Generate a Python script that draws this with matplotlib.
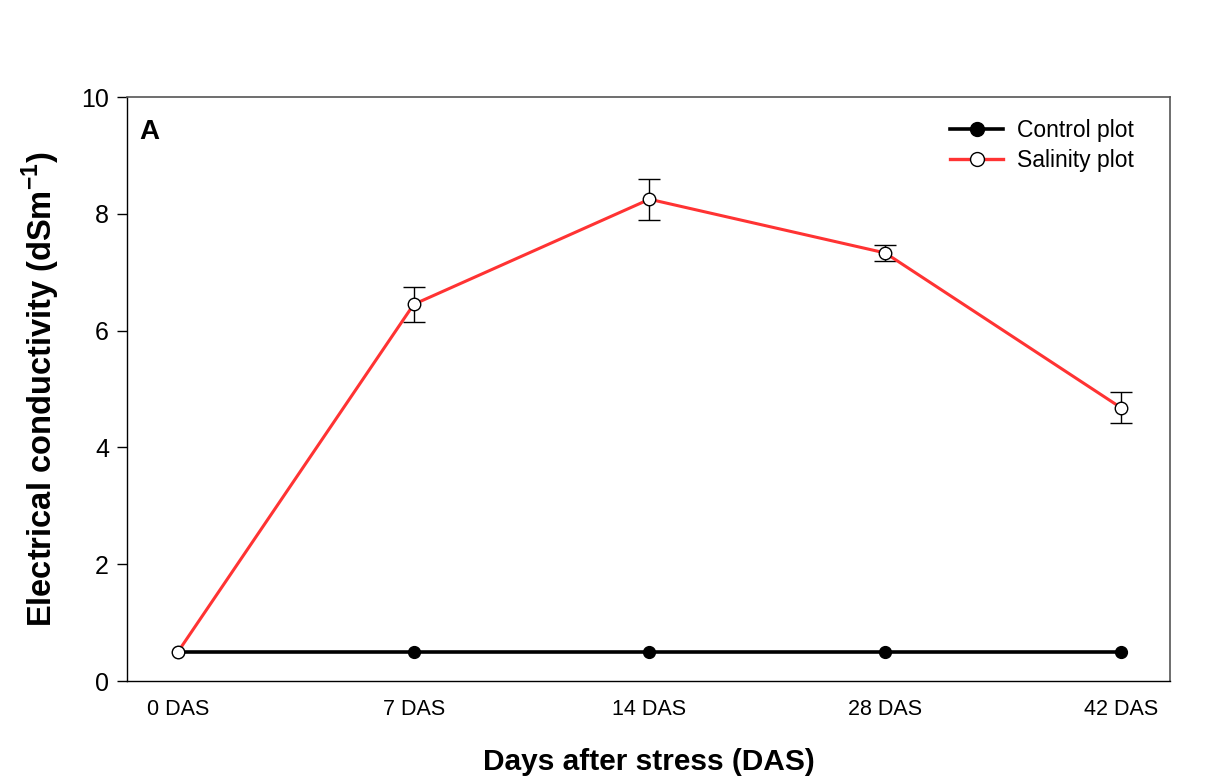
import matplotlib
matplotlib.use("Agg")
import matplotlib.pyplot as plt
import numpy as np
from matplotlib.lines import Line2D

plt.rcParams['font.family'] = ['Liberation Sans', 'DejaVu Sans']
plt.rcParams['mathtext.fontset'] = 'custom'
plt.rcParams['mathtext.bf'] = 'Liberation Sans:bold'
plt.rcParams['mathtext.rm'] = 'Liberation Sans'

categories = ["0 DAS", "7 DAS", "14 DAS", "28 DAS", "42 DAS"]
control = [0.5, 0.5, 0.5, 0.5, 0.5]
salinity = [0.5, 6.45, 8.25, 7.33, 4.68]
salinity_err = [0.0, 0.3, 0.35, 0.13, 0.27]

fig = plt.figure(figsize=(12.24, 7.8), dpi=100)
ax = fig.add_axes([0.1038, 0.1269, 0.8521, 0.7487])

x = np.arange(len(categories))
ax.plot(x, control, color='black', lw=2.6, marker='o', ms=8.5,
        mfc='black', mec='black', zorder=3)

err = np.array(salinity_err)
sal = np.array(salinity)
m = err > 0
ax.errorbar(x[m], sal[m], yerr=err[m], fmt='none', ecolor='black',
            elinewidth=1.0, capsize=8, capthick=1.0, zorder=4)
ax.plot(x, sal, color='#ff3333', lw=2.2, marker='o', ms=9,
        mfc='white', mec='black', mew=1.0, zorder=5)

ax.set_xlim(-0.216, 4.208)
ax.set_ylim(0, 10)
ax.set_yticks([0, 2, 4, 6, 8, 10])
ax.set_xticks(x)
ax.set_xticklabels(categories)
ax.tick_params(axis='y', direction='out', length=7, width=1, labelsize=18, pad=6)
ax.tick_params(axis='x', length=0, labelsize=15.5, pad=13)

for s in ['left', 'bottom']:
    ax.spines[s].set_color('black')
    ax.spines[s].set_linewidth(1.0)
for s in ['top', 'right']:
    ax.spines[s].set_color('#555555')
    ax.spines[s].set_linewidth(1.2)

ax.set_xlabel('Days after stress (DAS)', fontsize=21.5, fontweight='bold', labelpad=20)
ax.set_ylabel(r'Electrical conductivity (dSm$^{\mathbf{-1}}$)', fontsize=23.5,
              fontweight='bold', labelpad=14)

ax.text(0.012, 0.94, 'A', transform=ax.transAxes, fontsize=20,
        fontweight='bold', va='center', ha='left')

handles = [
    Line2D([], [], color='black', lw=2.6, marker='o', ms=10, mfc='black', mec='black'),
    Line2D([], [], color='#ff3333', lw=2.4, marker='o', ms=10, mfc='white', mec='black', mew=1.0),
]
ax.legend(handles, ['Control plot', 'Salinity plot'], loc='upper right',
          bbox_to_anchor=(0.985, 0.997), frameon=False, fontsize=16.5,
          handlelength=2.3, handletextpad=0.6, labelspacing=0.3)

fig.savefig('out.png', dpi=100)
